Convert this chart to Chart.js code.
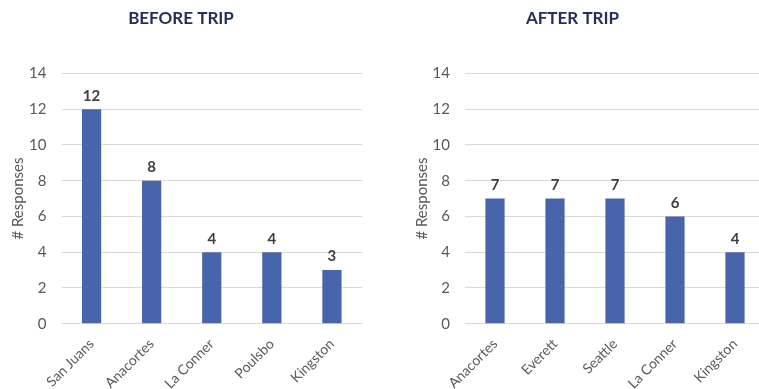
<!DOCTYPE html>
<html><head><meta charset="utf-8">
<script src="https://cdn.jsdelivr.net/npm/chart.js@4.4.1/dist/chart.umd.min.js"></script>
<style>
html,body{margin:0;padding:0;overflow:hidden;background:#fff;width:759px;height:389px;position:relative}
.c{position:absolute;top:0;height:389px}
#w1{left:0;width:380px}
#w2{left:380px;width:400px}
</style></head><body>
<div class="c" id="w1"><canvas id="c1" width="380" height="389"></canvas></div>
<div class="c" id="w2"><canvas id="c2" width="400" height="389"></canvas></div>
<script>
const beforeTitle = "BEFORE TRIP";
const beforeCategories = ["San Juans", "Anacortes", "La Conner", "Poulsbo", "Kingston"];
const beforeValues = [12, 8, 4, 4, 3];

const afterTitle = "AFTER TRIP";
const afterCategories = ["Anacortes", "Everett", "Seattle", "La Conner", "Kingston"];
const afterValues = [7, 7, 7, 6, 4];

const yMin = 0, yMax = 14, yStep = 2;
const yAxisTitle = "# Responses";

const FONT = "Lato, 'Liberation Sans', sans-serif";
const BAR = "#4864ab";

const valueLabels = {
  id: 'valueLabels',
  afterDatasetsDraw(chart) {
    const ctx = chart.ctx;
    const meta = chart.getDatasetMeta(0);
    const vals = chart.data.datasets[0].data;
    ctx.save();
    ctx.font = "bold 15px " + FONT;
    ctx.fillStyle = "#404040";
    ctx.textAlign = "center";
    ctx.textBaseline = "bottom";
    meta.data.forEach((bar, i) => {
      ctx.fillText(String(vals[i]), bar.x, bar.y - 6);
    });
    ctx.restore();
  }
};

function makeChart(id, title, cats, vals, yWidth, yTitlePad, padRight) {
  return new Chart(document.getElementById(id), {
    type: 'bar',
    data: {
      labels: cats,
      datasets: [{ data: vals, backgroundColor: BAR, barPercentage: 0.64, categoryPercentage: 0.5 }]
    },
    options: {
      responsive: false,
      animation: false,
      layout: { padding: { left: 0, right: padRight, top: 0, bottom: 0 } },
      plugins: {
        legend: { display: false },
        tooltip: { enabled: false },
        title: {
          display: true, text: title, color: "#25305a",
          font: { family: FONT, size: 17, weight: 'bold', lineHeight: 1.2 },
          padding: { top: 8, bottom: 45 }
        }
      },
      scales: {
        x: {
          grid: { display: false, drawTicks: false },
          border: { display: false },
          ticks: { color: "#595959", font: { family: FONT, size: 14 }, maxRotation: 45, minRotation: 45, padding: 12, autoSkip: false },
          afterFit(s) { s.height = 65.3; }
        },
        y: {
          min: yMin, max: yMax,
          grid: { color: "#d9d9d9", lineWidth: 1, drawTicks: false },
          border: { display: false },
          ticks: { stepSize: yStep, color: "#595959", font: { family: FONT, size: 15 }, padding: 15 },
          title: { display: true, text: yAxisTitle, color: "#595959", font: { family: FONT, size: 15, lineHeight: 1.2 }, padding: { top: yTitlePad, bottom: 0 } },
          afterFit(s) { s.width = yWidth; }
        }
      }
    },
    plugins: [valueLabels]
  });
}

makeChart('c1', beforeTitle, beforeCategories, beforeValues, 61.5, 9, 18);
makeChart('c2', afterTitle, afterCategories, afterValues, 85, 33, 15);
</script>
</body></html>
